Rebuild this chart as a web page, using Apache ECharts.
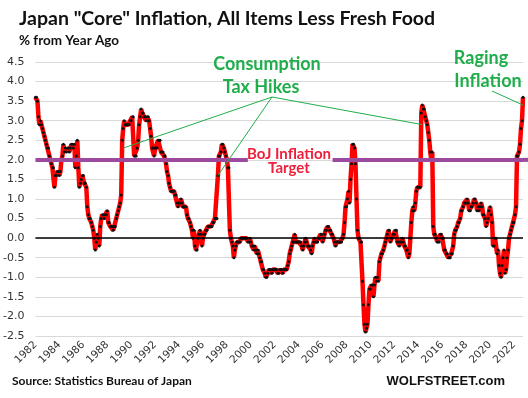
<!DOCTYPE html>
<html lang="en">
<head>
  <meta charset="UTF-8" />
  <title>Japan Core Inflation</title>
  <script src="https://cdn.jsdelivr.net/npm/echarts@6/dist/echarts.min.js"></script>
  <style>
    html, body { margin: 0; padding: 0; background: #fff; }
  </style>
</head>
<body>
  <div id="main" style="width: 528px; height: 398px;"></div>

  <script>
    // year-over-year % change, monthly, Jan 1982 .. Oct 2022
    const cpi1980s = [
      3.6, 3.6, 3.5, 3.1, 2.9, 3.0, 2.9, 2.8, 2.7, 2.6, 2.5, 2.4,
      2.3, 2.3, 2.1, 2.0, 1.9, 1.8, 1.8, 1.3, 1.6, 1.6, 1.7, 1.7,
      1.6, 1.7, 2.0, 2.1, 2.4, 2.2, 2.3, 2.2, 2.3, 2.3, 2.2, 2.3,
      2.4, 2.4, 2.3, 2.4, 1.8, 2.1, 2.5, 1.8, 1.3, 1.4, 1.5, 1.6,
      1.6, 1.4, 1.4, 1.3, 0.8, 0.6, 0.5, 0.5, 0.4, 0.3, 0.2, 0.0,
      -0.3, -0.1, 0.1, 0.0, -0.2, 0.3, 0.5, 0.6, 0.6, 0.5, 0.6, 0.6,
      0.7, 0.4, 0.4, 0.3, 0.3, 0.3, 0.2, 0.3, 0.3, 0.5, 0.6, 0.7,
      0.8, 0.9, 1.1, 2.5, 2.8, 3.0, 2.9, 2.9, 2.9, 2.9, 2.9, 3.0
    ];
    const cpi1990s = [
      3.0, 3.1, 3.1, 2.1, 2.1, 2.1, 2.3, 2.5, 2.9, 3.1, 3.3, 3.2,
      3.2, 3.1, 3.1, 3.0, 3.1, 3.1, 3.0, 2.8, 2.6, 2.3, 2.3, 2.1,
      2.3, 2.3, 2.3, 2.5, 2.5, 2.5, 2.2, 2.2, 2.2, 2.1, 2.1, 1.9,
      1.7, 1.6, 1.4, 1.3, 1.2, 1.2, 1.2, 1.2, 1.1, 1.1, 0.9, 0.8,
      0.9, 0.9, 1.0, 0.9, 0.8, 0.8, 0.8, 0.8, 0.6, 0.5, 0.5, 0.4,
      0.3, 0.2, 0.0, 0.2, -0.2, -0.3, -0.3, 0.0, 0.1, 0.2, 0.1, -0.2,
      0.0, 0.1, 0.1, 0.2, 0.2, 0.3, 0.3, 0.3, 0.3, 0.3, 0.4, 0.4,
      0.5, 0.5, 0.5, 1.6, 2.1, 2.1, 2.2, 2.4, 2.4, 2.3, 2.2, 2.1,
      2.0, 1.8, 1.8, 0.2, 0.0, -0.1, -0.2, -0.5, -0.3, -0.2, -0.1, -0.1,
      -0.1, -0.1, 0.0, 0.0, 0.0, 0.0, 0.0, 0.0, 0.0, -0.1, -0.1, 0.0
    ];
    const cpi2000s = [
      -0.1, -0.2, -0.2, -0.3, -0.2, -0.3, -0.4, -0.3, -0.4, -0.5, -0.6, -0.6,
      -0.8, -0.8, -0.9, -1.0, -1.0, -0.9, -0.8, -0.8, -0.8, -0.9, -0.8, -0.8,
      -0.8, -0.8, -0.8, -0.9, -0.9, -0.8, -0.8, -0.8, -0.9, -0.8, -0.8, -0.8,
      -0.8, -0.7, -0.6, -0.4, -0.3, -0.2, -0.1, -0.1, 0.1, -0.1, -0.1, -0.1,
      -0.1, -0.1, -0.1, -0.2, -0.3, -0.2, -0.1, 0.0, -0.1, -0.2, -0.2, -0.2,
      -0.3, -0.4, -0.2, -0.1, 0.0, -0.1, -0.1, -0.1, 0.0, 0.0, 0.1, 0.1,
      -0.1, 0.0, 0.1, 0.2, 0.2, 0.3, 0.3, 0.2, 0.2, 0.1, 0.1, 0.0,
      -0.1, -0.2, -0.1, -0.1, -0.1, -0.1, -0.1, -0.1, 0.0, 0.1, 0.4, 0.8,
      0.8, 1.0, 1.2, 0.9, 1.5, 1.9, 2.4, 2.4, 2.3, 1.9, 1.0, 0.2,
      0.0, 0.0, -0.1, -0.1, -1.1, -1.7, -2.2, -2.4, -2.3, -2.2, -1.7, -1.3
    ];
    const cpi2010s = [
      -1.3, -1.2, -1.2, -1.5, -1.2, -1.0, -1.1, -1.0, -1.1, -0.6, -0.5, -0.4,
      -0.4, -0.3, -0.2, -0.1, 0.0, 0.1, 0.2, 0.2, -0.1, 0.0, 0.0, 0.1,
      0.1, 0.2, 0.2, -0.1, -0.1, -0.2, -0.1, -0.1, 0.0, -0.1, -0.2, -0.2,
      -0.3, -0.3, -0.5, -0.4, 0.0, 0.4, 0.7, 0.8, 0.7, 0.9, 1.2, 1.3,
      1.3, 1.3, 1.3, 3.2, 3.4, 3.3, 3.3, 3.1, 3.0, 2.9, 2.7, 2.5,
      2.2, 2.0, 2.2, 0.3, 0.1, 0.1, 0.0, -0.1, -0.1, -0.1, 0.1, 0.1,
      0.0, 0.0, -0.3, -0.3, -0.4, -0.4, -0.5, -0.5, -0.5, -0.4, -0.4, -0.2,
      0.1, 0.2, 0.2, 0.3, 0.4, 0.4, 0.5, 0.7, 0.7, 0.8, 0.9, 0.9,
      0.9, 1.0, 0.9, 0.7, 0.7, 0.8, 0.8, 0.9, 1.0, 1.0, 0.9, 0.7,
      0.8, 0.7, 0.8, 0.9, 0.8, 0.6, 0.6, 0.5, 0.3, 0.4, 0.5, 0.7
    ];
    const cpi2020s = [
      0.8, 0.6, 0.4, -0.2, -0.2, 0.0, 0.0, -0.4, -0.3, -0.7, -0.9, -1.0,
      -0.7, -0.5, -0.3, -0.9, -0.8, -0.5, -0.3, 0.0, 0.1, 0.2, 0.3, 0.4,
      0.4, 0.6, 0.8, 2.1, 2.1, 2.2, 2.4, 2.8, 3.0, 3.6
    ];
    const cpi = cpi1980s.concat(cpi1990s, cpi2000s, cpi2010s, cpi2020s);

    const firstYear = 1982;
    const months = cpi.map((_, i) => {
      const y = firstYear + Math.floor(i / 12);
      const m = (i % 12) + 1;
      return y + "-" + (m < 10 ? "0" + m : m);
    });

    const bojTarget = 2.0;
    // consumption tax hike months (Apr 1989, Apr 1997, Apr 2014) and where the pointers land
    const taxHikePoints = [[88, 2.3], [183, 1.6], [388, 2.9]];
    const ragingPoint = [489, 3.4];

    const green = "#1fae4b";
    const last = months.length - 1;

    const myChart = echarts.init(document.getElementById("main"));

    const option = {
      animation: false,
      title: {
        text: 'Japan "Core" Inflation, All Items Less Fresh Food',
        subtext: "% from Year Ago",
        left: 14,
        top: 4,
        itemGap: 5,
        textStyle: { fontFamily: "Lato", fontWeight: "bold", fontSize: 19.5, color: "#111" },
        subtextStyle: { fontFamily: "Lato", fontWeight: "bold", fontSize: 13.5, color: "#111" },
      },
      grid: { left: 34, right: 5, top: 62, bottom: 62 },
      xAxis: {
        type: "category",
        data: months,
        boundaryGap: false,
        axisLine: { show: false },
        axisTick: { show: false },
        splitLine: { show: false },
        axisLabel: {
          interval: (i) => i % 24 === 0,
          rotate: 45,
          margin: 7,
          formatter: (v) => v.slice(0, 4),
          fontFamily: "DejaVu Sans",
          fontSize: 10.5,
          color: "#333",
        },
      },
      yAxis: {
        type: "value",
        min: -2.5,
        max: 4.5,
        interval: 0.5,
        axisLine: { show: false },
        axisTick: { show: false },
        axisLabel: {
          formatter: (v) => v.toFixed(1),
          fontFamily: "DejaVu Sans",
          fontSize: 11,
          color: "#333",
          margin: 11,
        },
        splitLine: { lineStyle: { color: "#d9d9d9", width: 1 } },
      },
      series: [
        {
          // zero line, under the data
          type: "line",
          data: [],
          z: 1,
          markLine: {
            silent: true,
            symbol: "none",
            label: { show: false },
            lineStyle: { color: "#000", width: 1.5, type: "solid" },
            data: [[{ coord: [0, 0] }, { coord: [last, 0] }]],
          },
        },
        {
          name: "Core CPI",
          type: "line",
          data: cpi,
          z: 2,
          showAllSymbol: true,
          symbol: "circle",
          symbolSize: 3,
          itemStyle: { color: "#111" },
          lineStyle: { color: "#ff0000", width: 4.5 },
        },
        {
          // BoJ target line, broken where the label sits
          type: "line",
          data: [],
          z: 3,
          markLine: {
            silent: true,
            symbol: "none",
            label: { show: false },
            lineStyle: { color: "#9c4a9e", width: 4, type: "solid" },
            data: [
              [{ coord: [0, bojTarget] }, { coord: [213, bojTarget] }],
              [{ coord: [298, bojTarget] }, { coord: [last, bojTarget] }],
            ],
          },
        },
      ],
    };

    myChart.setOption(option);

    // annotations
    const toPx = (p) => myChart.convertToPixel({ seriesIndex: 1 }, p);
    const apex = [272, 97];
    const leaders = taxHikePoints.map((p) => {
      const q = toPx(p);
      return {
        type: "line",
        shape: { x1: apex[0], y1: apex[1], x2: q[0], y2: q[1] },
        style: { stroke: green, lineWidth: 1 },
        z: 10,
      };
    });
    const rp = toPx(ragingPoint);
    const tp = toPx([last, bojTarget]);

    const textStyle = (text, x, y, size, color, align) => ({
      type: "text",
      x: x,
      y: y,
      z: 10,
      style: {
        text: text,
        fill: color,
        font: "bold " + size + "px Lato",
        textAlign: align || "center",
        textVerticalAlign: "middle",
      },
    });

    myChart.setOption({
      graphic: {
        elements: leaders.concat([
          {
            // the target line runs on to the edge of the picture
            type: "line",
            shape: { x1: tp[0], y1: tp[1], x2: 528, y2: tp[1] },
            style: { stroke: "#9c4a9e", lineWidth: 4 },
            z: 10,
          },
          {
            type: "line",
            shape: { x1: 492, y1: 91, x2: rp[0], y2: rp[1] },
            style: { stroke: green, lineWidth: 1 },
            z: 10,
          },
          textStyle("Consumption", 267, 64, 18, green),
          textStyle("Tax Hikes", 261, 87, 18, green),
          textStyle("Raging", 481, 58, 18, green),
          textStyle("Inflation", 488, 81, 18, green),
          textStyle("BoJ Inflation", 289, 154, 15, "#ee1f3b"),
          textStyle("Target", 289, 168, 15, "#ee1f3b"),
          textStyle("Source: Statistics Bureau of Japan", 12, 381, 12, "#111", "left"),
          {
            type: "text",
            x: 505,
            y: 381,
            z: 10,
            style: {
              text: "WOLFSTREET.com",
              fill: "#111",
              font: "bold 13px 'Liberation Sans'",
              textAlign: "right",
              textVerticalAlign: "middle",
            },
          },
        ]),
      },
    });
  </script>
</body>
</html>
